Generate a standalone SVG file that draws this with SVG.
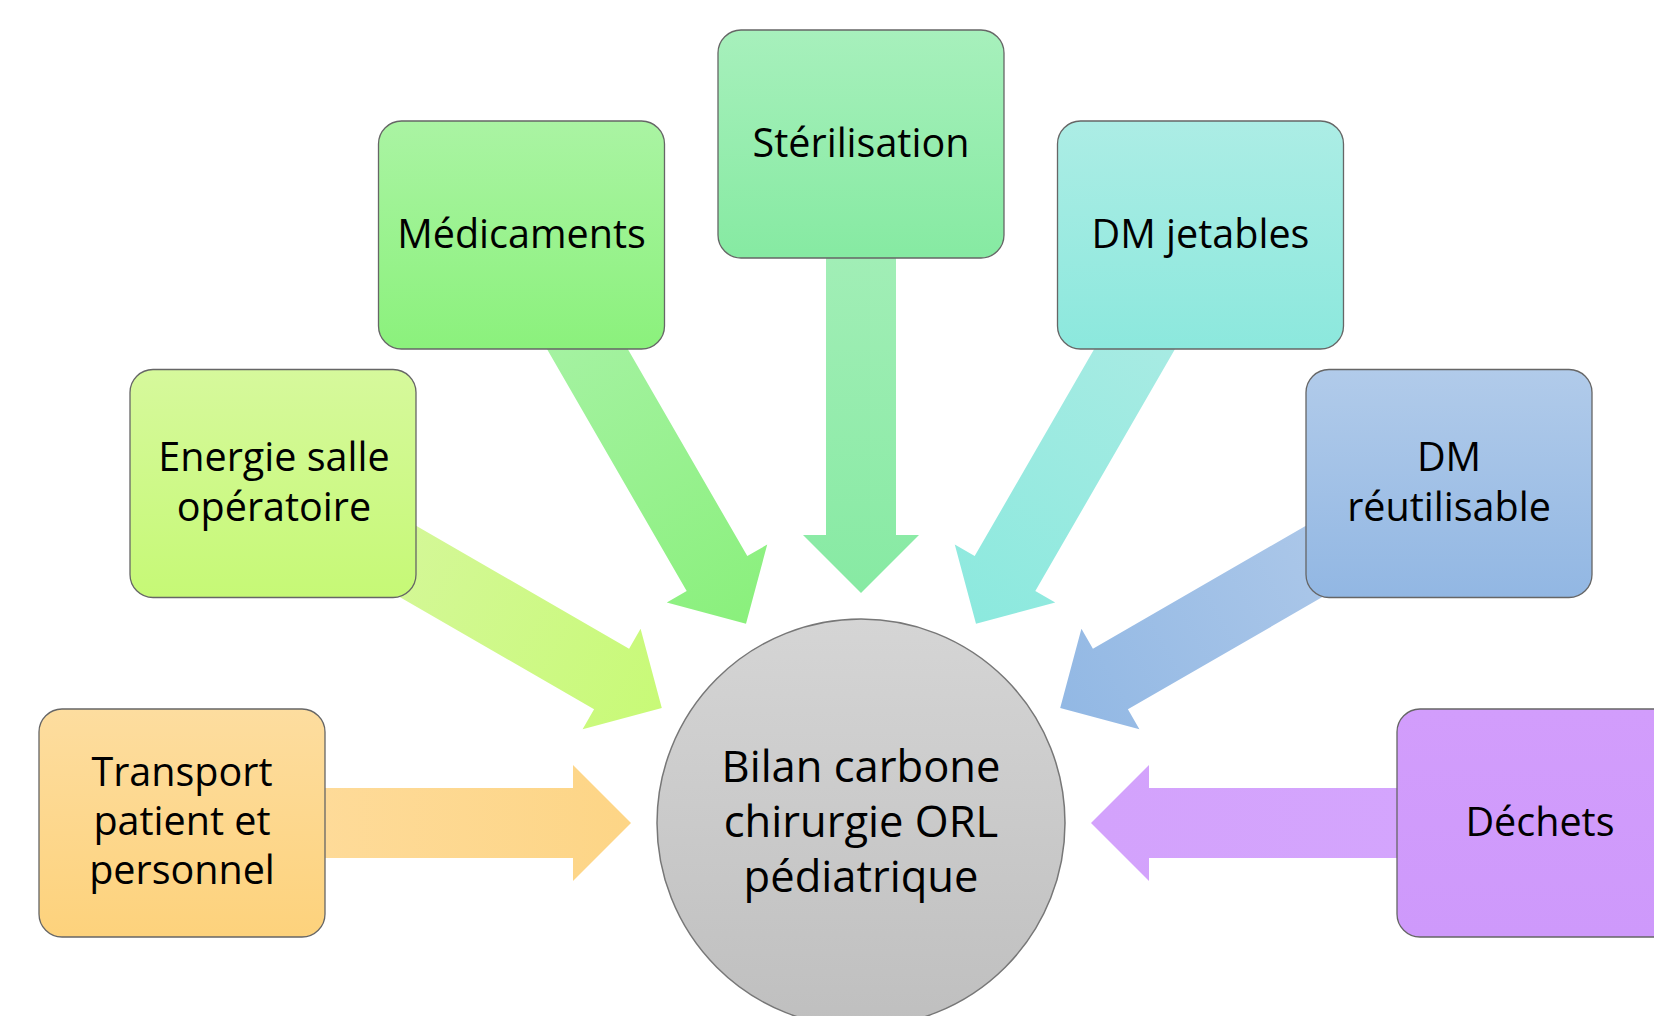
<svg xmlns="http://www.w3.org/2000/svg" width="1654" height="1016" viewBox="0 0 1654 1016">
<style>
.box{stroke:#666666;stroke-width:1.3}
.lbl{font-family:"Open Sans","Noto Sans",sans-serif;font-size:39.5px;fill:#000;text-anchor:middle}
.ctr{font-family:"Open Sans","Noto Sans",sans-serif;font-size:43.5px;fill:#000;text-anchor:middle}
</style>
<defs>
<linearGradient id="gTr" x1="0" y1="0" x2="0" y2="1"><stop offset="0" stop-color="#fddd9f"/><stop offset="1" stop-color="#fdd27c"/></linearGradient>
<linearGradient id="gEn" x1="0" y1="0" x2="0" y2="1"><stop offset="0" stop-color="#d6f99c"/><stop offset="1" stop-color="#c6f976"/></linearGradient>
<linearGradient id="gMe" x1="0" y1="0" x2="0" y2="1"><stop offset="0" stop-color="#aaf4a3"/><stop offset="1" stop-color="#8bf17c"/></linearGradient>
<linearGradient id="gSt" x1="0" y1="0" x2="0" y2="1"><stop offset="0" stop-color="#a7f0bc"/><stop offset="1" stop-color="#86eaa2"/></linearGradient>
<linearGradient id="gDj" x1="0" y1="0" x2="0" y2="1"><stop offset="0" stop-color="#acede5"/><stop offset="1" stop-color="#8ce8dd"/></linearGradient>
<linearGradient id="gDr" x1="0" y1="0" x2="0" y2="1"><stop offset="0" stop-color="#b1cbea"/><stop offset="1" stop-color="#92b7e3"/></linearGradient>
<linearGradient id="gDe" x1="0" y1="0" x2="0" y2="1"><stop offset="0" stop-color="#d29dfc"/><stop offset="1" stop-color="#ce99fb"/></linearGradient>
<linearGradient id="gC" x1="0" y1="0" x2="0" y2="1"><stop offset="0" stop-color="#d5d5d5"/><stop offset="1" stop-color="#bfbfbf"/></linearGradient>
<linearGradient id="aTr" gradientUnits="userSpaceOnUse" x1="296" y1="823" x2="631" y2="823"><stop offset="0" stop-color="#fedb9a"/><stop offset="1" stop-color="#fdd586"/></linearGradient>
<linearGradient id="aEn" gradientUnits="userSpaceOnUse" x1="371.7" y1="540.5" x2="661.8" y2="708"><stop offset="0" stop-color="#d5f79a"/><stop offset="1" stop-color="#c8fa77"/></linearGradient>
<linearGradient id="aMe" gradientUnits="userSpaceOnUse" x1="578.5" y1="333.7" x2="746" y2="623.8"><stop offset="0" stop-color="#a4f2a1"/><stop offset="1" stop-color="#8af07c"/></linearGradient>
<linearGradient id="aSt" gradientUnits="userSpaceOnUse" x1="861" y1="258" x2="861" y2="593"><stop offset="0" stop-color="#a1eeb6"/><stop offset="1" stop-color="#87eaa3"/></linearGradient>
<linearGradient id="aDj" gradientUnits="userSpaceOnUse" x1="1143.5" y1="333.7" x2="976" y2="623.8"><stop offset="0" stop-color="#a7ebe3"/><stop offset="1" stop-color="#8ce9de"/></linearGradient>
<linearGradient id="aDr" gradientUnits="userSpaceOnUse" x1="1350.3" y1="540.5" x2="1060.2" y2="708"><stop offset="0" stop-color="#adc8e9"/><stop offset="1" stop-color="#92b8e4"/></linearGradient>
<linearGradient id="aDe" gradientUnits="userSpaceOnUse" x1="1426" y1="823" x2="1091" y2="823"><stop offset="0" stop-color="#d4a5fd"/><stop offset="1" stop-color="#d3a2fc"/></linearGradient>
</defs>
<rect width="1654" height="1016" fill="#ffffff"/>
<g id="connectors">
<polygon fill="url(#aTr)" points="211,858 573,858 573,881 631,823 573,765 573,788 211,788"/>
<polygon fill="url(#aEn)" points="280.58,528.31 594.08,709.31 582.58,729.23 661.81,708 640.58,628.77 629.08,648.69 315.58,467.69"/>
<polygon fill="url(#aMe)" points="505.69,277.58 686.69,591.08 666.77,602.58 746,623.81 767.23,544.58 747.31,556.08 566.31,242.58"/>
<polygon fill="url(#aSt)" points="826,173 826,535 803,535 861,593 919,535 896,535 896,173"/>
<polygon fill="url(#aDj)" points="1155.69,242.58 974.69,556.08 954.77,544.58 976,623.81 1055.23,602.58 1035.31,591.08 1216.31,277.58"/>
<polygon fill="url(#aDr)" points="1406.42,467.69 1092.92,648.69 1081.42,628.77 1060.19,708 1139.42,729.23 1127.92,709.31 1441.42,528.31"/>
<polygon fill="url(#aDe)" points="1511,788 1149,788 1149,765 1091,823 1149,881 1149,858 1511,858"/>
</g>
<g id="node-center">
<circle cx="861" cy="823" r="204" fill="url(#gC)" stroke="#777777" stroke-width="1.5"/>
<text class="ctr" x="861" y="782">Bilan carbone</text>
<text class="ctr" x="861" y="837">chirurgie ORL</text>
<text class="ctr" x="861" y="892">pédiatrique</text>
</g>
<g id="node-transport">
<rect class="box" x="39" y="709" width="286" height="228" rx="23" fill="url(#gTr)"/>
<text class="lbl" x="182" y="786">Transport</text>
<text class="lbl" x="182" y="835">patient et</text>
<text class="lbl" x="182" y="884">personnel</text>
</g>
<g id="node-energie">
<rect class="box" x="130" y="369.5" width="286" height="228" rx="23" fill="url(#gEn)"/>
<text class="lbl" x="274" y="471">Energie salle</text>
<text class="lbl" x="274" y="521">opératoire</text>
</g>
<g id="node-medicaments">
<rect class="box" x="378.5" y="121" width="286" height="228" rx="23" fill="url(#gMe)"/>
<text class="lbl" x="521.5" y="248">Médicaments</text>
</g>
<g id="node-sterilisation">
<rect class="box" x="718" y="30" width="286" height="228" rx="23" fill="url(#gSt)"/>
<text class="lbl" x="861" y="157">Stérilisation</text>
</g>
<g id="node-dm-jetables">
<rect class="box" x="1057.5" y="121" width="286" height="228" rx="23" fill="url(#gDj)"/>
<text class="lbl" x="1200.5" y="248">DM jetables</text>
</g>
<g id="node-dm-reutilisable">
<rect class="box" x="1306" y="369.5" width="286" height="228" rx="23" fill="url(#gDr)"/>
<text class="lbl" x="1449" y="471">DM</text>
<text class="lbl" x="1449" y="521">réutilisable</text>
</g>
<g id="node-dechets">
<rect class="box" x="1397" y="709" width="286" height="228" rx="23" fill="url(#gDe)"/>
<text class="lbl" x="1540" y="836">Déchets</text>
</g>
</svg>
